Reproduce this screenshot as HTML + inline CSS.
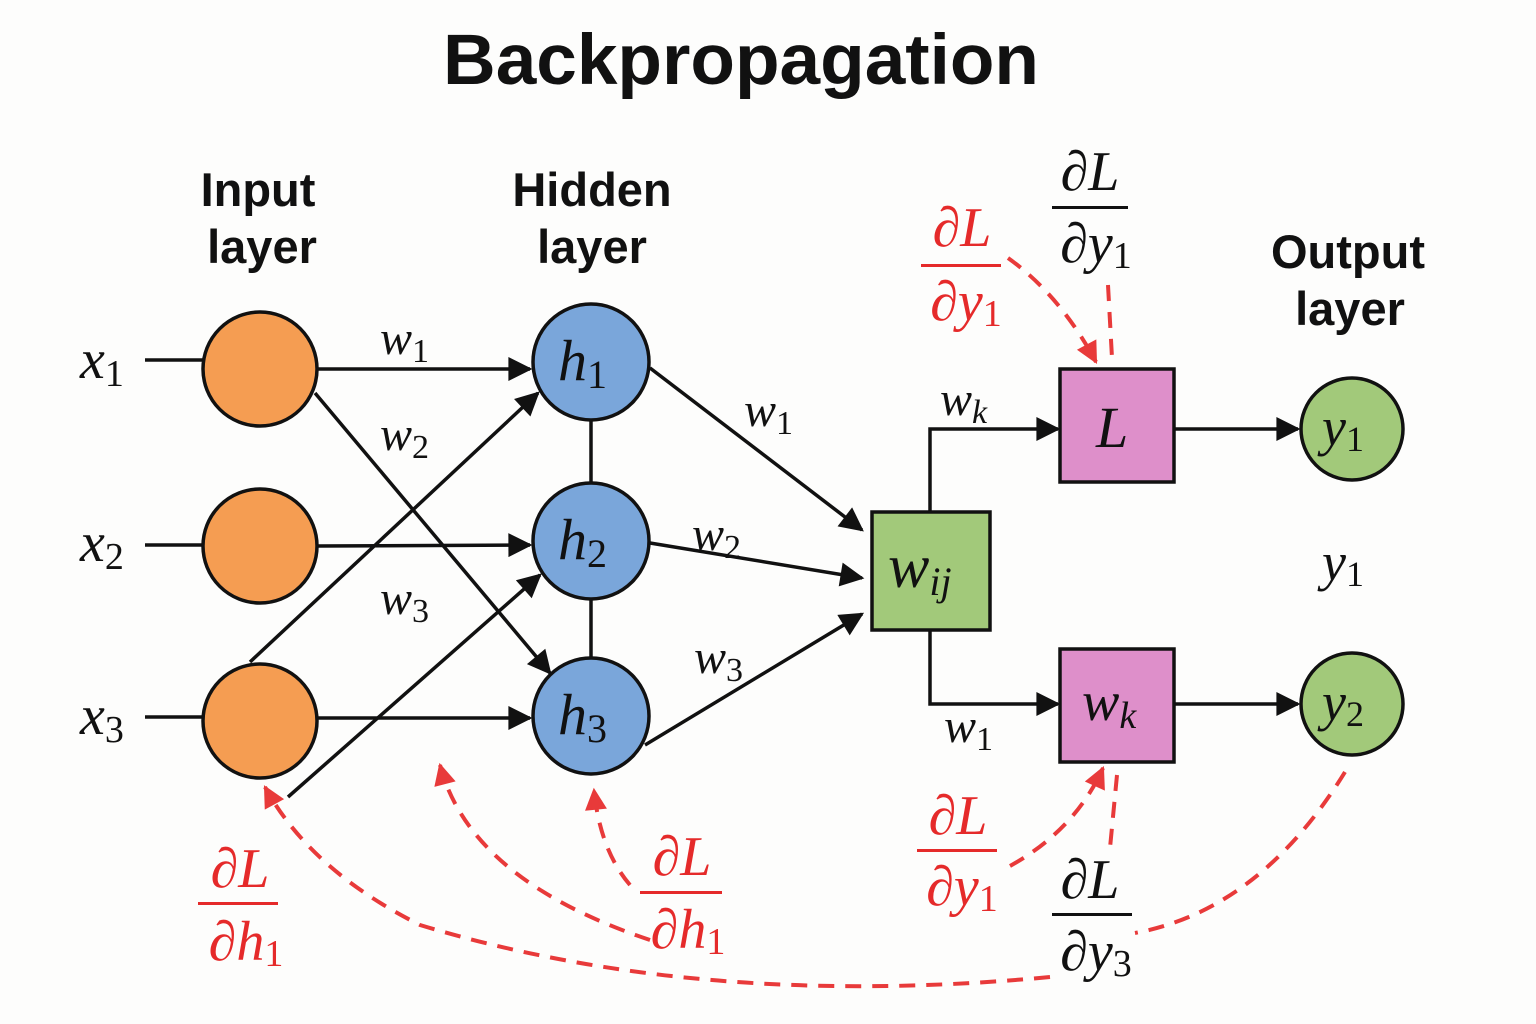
<!DOCTYPE html>
<html><head><meta charset="utf-8"><style>
html,body{margin:0;padding:0;background:#fdfdfc;}
svg{display:block}
.t{font-family:"Liberation Sans",sans-serif;font-weight:bold;fill:#111;}
.m{font-family:"Liberation Serif",serif;font-style:italic;fill:#111;}
.r{fill:#e52a2a;}
.n{font-family:"Liberation Serif",serif;font-style:normal;}
</style></head><body>
<svg width="1536" height="1024" viewBox="0 0 1536 1024" xmlns="http://www.w3.org/2000/svg">
<defs>
<marker id="ab" viewBox="0 0 10 10" refX="9" refY="5" markerWidth="28" markerHeight="24" orient="auto" markerUnits="userSpaceOnUse"><path d="M0,0 L10,5 L0,10 z" fill="#111"/></marker>
<marker id="ar" viewBox="0 0 10 10" refX="9" refY="5" markerWidth="28" markerHeight="22" orient="auto" markerUnits="userSpaceOnUse"><path d="M0,0 L10,5 L0,10 z" fill="#e83a3a"/></marker>
</defs>
<rect width="1536" height="1024" fill="#fdfdfc"/>
<text x="741" y="84" text-anchor="middle" class="t" font-size="71" textLength="596" lengthAdjust="spacingAndGlyphs">Backpropagation</text>
<text x="258" y="206" text-anchor="middle" class="t" font-size="47">Input</text>
<text x="262" y="263" text-anchor="middle" class="t" font-size="47">layer</text>
<text x="592" y="206" text-anchor="middle" class="t" font-size="47">Hidden</text>
<text x="592" y="263" text-anchor="middle" class="t" font-size="47">layer</text>
<text x="1348" y="268" text-anchor="middle" class="t" font-size="47">Output</text>
<text x="1350" y="325" text-anchor="middle" class="t" font-size="47">layer</text>

<g stroke="#111" stroke-width="3.5" fill="none">
<line x1="145" y1="360" x2="205" y2="360"/>
<line x1="145" y1="545" x2="205" y2="545"/>
<line x1="145" y1="717" x2="205" y2="717"/>
<line x1="318" y1="369" x2="530" y2="369" marker-end="url(#ab)"/>
<line x1="315" y1="393" x2="550" y2="673" marker-end="url(#ab)"/>
<line x1="318" y1="546" x2="530" y2="545" marker-end="url(#ab)"/>
<line x1="250" y1="662" x2="538" y2="393" marker-end="url(#ab)"/>
<line x1="318" y1="718" x2="530" y2="718" marker-end="url(#ab)"/>
<line x1="288" y1="797" x2="540" y2="575" marker-end="url(#ab)"/>
<line x1="591" y1="418" x2="591" y2="485"/>
<line x1="591" y1="597" x2="591" y2="660"/>
<line x1="650" y1="368" x2="862" y2="530" marker-end="url(#ab)"/>
<line x1="650" y1="543" x2="862" y2="578" marker-end="url(#ab)"/>
<line x1="645" y1="745" x2="862" y2="614" marker-end="url(#ab)"/>
<polyline points="930,512 930,429 1058,429" marker-end="url(#ab)"/>
<polyline points="930,630 930,704 1058,704" marker-end="url(#ab)"/>
<line x1="1174" y1="429" x2="1298" y2="429" marker-end="url(#ab)"/>
<line x1="1174" y1="704" x2="1298" y2="704" marker-end="url(#ab)"/>
</g>

<g stroke="#111" stroke-width="3.5">
<circle cx="260" cy="369" r="57" fill="#f59d52"/>
<circle cx="260" cy="546" r="57" fill="#f59d52"/>
<circle cx="260" cy="721" r="57" fill="#f59d52"/>
<circle cx="591" cy="362" r="58" fill="#7aa6da"/>
<circle cx="591" cy="541" r="58" fill="#7aa6da"/>
<circle cx="591" cy="716" r="58" fill="#7aa6da"/>
<rect x="872" y="512" width="118" height="118" fill="#a2c97a"/>
<rect x="1060" y="369" width="114" height="113" fill="#de8fca"/>
<rect x="1060" y="649" width="114" height="113" fill="#de8fca"/>
<circle cx="1352" cy="429" r="51" fill="#a2c97a"/>
<circle cx="1352" cy="704" r="51" fill="#a2c97a"/>
</g>

<g class="m" font-size="56">
<text x="80" y="378">x<tspan class="n" font-size="38" dy="8">1</tspan></text>
<text x="80" y="561">x<tspan class="n" font-size="38" dy="8">2</tspan></text>
<text x="80" y="734">x<tspan class="n" font-size="38" dy="8">3</tspan></text>
<text x="558" y="380" font-size="58">h<tspan class="n" font-size="40" dy="8">1</tspan></text>
<text x="558" y="559" font-size="58">h<tspan class="n" font-size="40" dy="8">2</tspan></text>
<text x="558" y="734" font-size="58">h<tspan class="n" font-size="40" dy="8">3</tspan></text>
<text x="888" y="587" font-size="62">w<tspan font-size="40" dy="8">ij</tspan></text>
<text x="1096" y="447" font-size="58">L</text>
<text x="1082" y="720" font-size="56">w<tspan font-size="38" dy="8">k</tspan></text>
<text x="1322" y="445" font-size="54">y<tspan class="n" font-size="36" dy="6">1</tspan></text>
<text x="1322" y="720" font-size="54">y<tspan class="n" font-size="36" dy="6">2</tspan></text>
<text x="1322" y="580" font-size="54">y<tspan class="n" font-size="36" dy="6">1</tspan></text>
<g font-size="48">
<text x="380" y="354">w<tspan class="n" font-size="34" dy="8">1</tspan></text>
<text x="380" y="450">w<tspan class="n" font-size="34" dy="8">2</tspan></text>
<text x="380" y="614">w<tspan class="n" font-size="34" dy="8">3</tspan></text>
<text x="744" y="426">w<tspan class="n" font-size="34" dy="8">1</tspan></text>
<text x="692" y="550">w<tspan class="n" font-size="34" dy="8">2</tspan></text>
<text x="694" y="673">w<tspan class="n" font-size="34" dy="8">3</tspan></text>
<text x="940" y="415">w<tspan font-size="34" dy="8">k</tspan></text>
<text x="944" y="742">w<tspan class="n" font-size="34" dy="8">1</tspan></text>
</g>
</g>

<g stroke="#e83a3a" stroke-width="4" fill="none" stroke-dasharray="16,11">
<path d="M1008,258 Q1060,295 1096,362" marker-end="url(#ar)"/>
<path d="M1108,285 L1112,358"/>
<path d="M1010,866 Q1075,830 1103,768" marker-end="url(#ar)"/>
<path d="M1117,775 L1110,848"/>
<path d="M1345,772 Q1260,910 1135,933"/>
<path d="M1050,977 Q700,1010 420,925 Q310,870 265,787" marker-end="url(#ar)"/>
<path d="M650,940 Q470,880 440,765" marker-end="url(#ar)"/>
<path d="M630,885 Q600,850 594,790" marker-end="url(#ar)"/>
</g>

<g class="m" font-size="56" text-anchor="middle">
<g class="r">
<text x="962" y="246">∂L</text><rect x="921" y="264" width="80" height="3" fill="#e52a2a"/><text x="966" y="320">∂y<tspan class="n" font-size="38" dy="6">1</tspan></text>
<text x="958" y="834">∂L</text><rect x="917" y="849" width="80" height="3" fill="#e52a2a"/><text x="962" y="905">∂y<tspan class="n" font-size="38" dy="6">1</tspan></text>
<text x="240" y="887">∂L</text><rect x="198" y="902" width="80" height="3" fill="#e52a2a"/><text x="246" y="960">∂h<tspan class="n" font-size="38" dy="6">1</tspan></text>
<text x="682" y="875">∂L</text><rect x="640" y="891" width="82" height="3" fill="#e52a2a"/><text x="688" y="948">∂h<tspan class="n" font-size="38" dy="6">1</tspan></text>
</g>
<text x="1090" y="190">∂L</text><rect x="1052" y="206" width="76" height="3" fill="#111"/><text x="1096" y="262">∂y<tspan class="n" font-size="38" dy="6">1</tspan></text>
<text x="1090" y="898">∂L</text><rect x="1052" y="913" width="80" height="3" fill="#111"/><text x="1096" y="970">∂y<tspan class="n" font-size="38" dy="6">3</tspan></text>
</g>
</svg>
</body></html>
